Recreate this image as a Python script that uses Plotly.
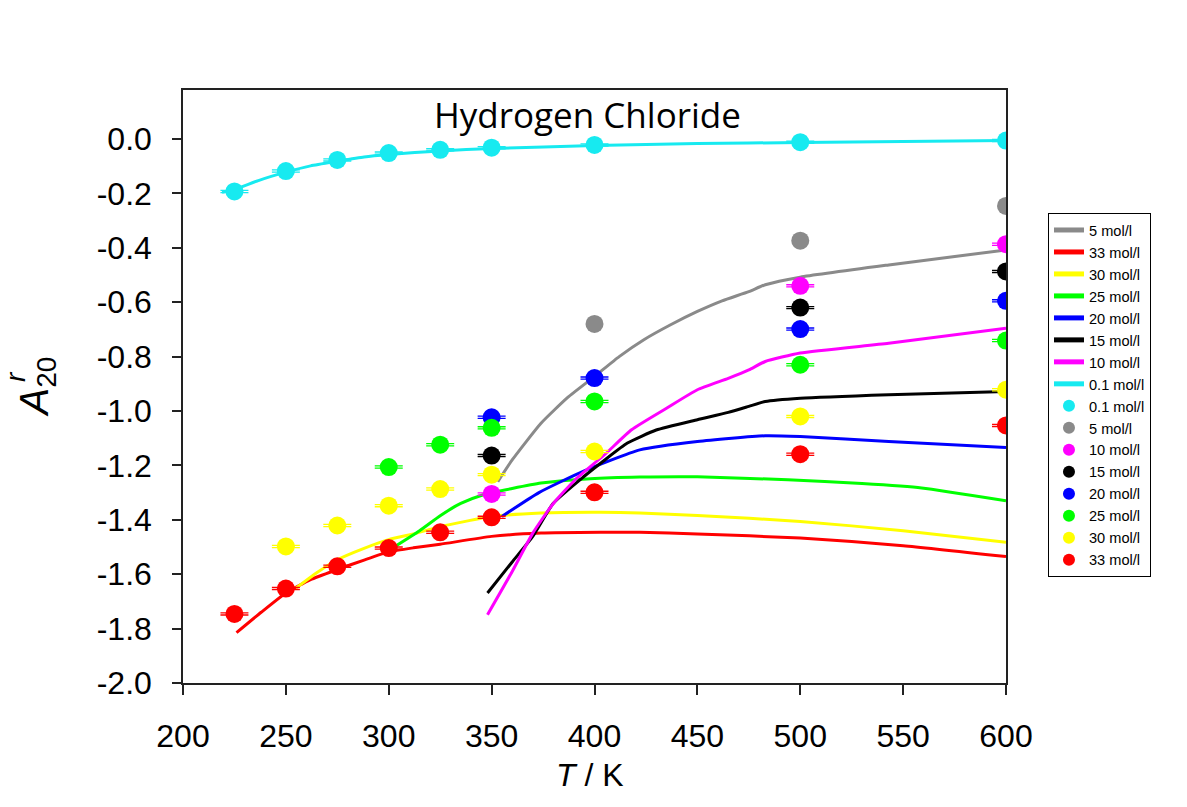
import plotly.graph_objects as go

# ---- measured points (T in K, A20r) ----
T_cyan = [225, 250, 275, 300, 325, 350, 400, 500, 600]
A_cyan = [-0.193, -0.118, -0.077, -0.052, -0.040, -0.032, -0.022, -0.012, -0.006]
T_gray = [400, 500, 600]
A_gray = [-0.680, -0.374, -0.246]
T_magenta = [350, 500, 600]
A_magenta = [-1.305, -0.540, -0.387]
T_black = [350, 500, 600]
A_black = [-1.164, -0.620, -0.487]
T_blue = [350, 400, 500, 600]
A_blue = [-1.023, -0.879, -0.699, -0.595]
T_green = [300, 325, 350, 400, 500, 600]
A_green = [-1.206, -1.124, -1.062, -0.965, -0.830, -0.741]
T_yellow = [250, 275, 300, 325, 350, 400, 500, 600]
A_yellow = [-1.498, -1.421, -1.348, -1.287, -1.234, -1.149, -1.020, -0.922]
T_red = [225, 250, 275, 300, 325, 350, 400, 500, 600]
A_red = [-1.746, -1.653, -1.571, -1.504, -1.446, -1.391, -1.299, -1.159, -1.053]

# ---- equation-of-state curves ----
L_T_gray = [353, 360, 374, 387, 400, 412, 424, 437, 450, 462, 475, 483, 500, 543, 600]
L_A_gray = [-1.26, -1.18, -1.045, -0.95, -0.873, -0.80, -0.738, -0.683, -0.634, -0.595,
            -0.561, -0.536, -0.508, -0.463, -0.408]
L_T_red = [226, 238, 250, 262, 275, 288, 300, 312, 325, 350, 374, 403, 422, 450, 500, 550, 600]
L_A_red = [-1.815, -1.74, -1.669, -1.62, -1.583, -1.548, -1.518, -1.503, -1.49, -1.461,
           -1.449, -1.446, -1.446, -1.452, -1.467, -1.495, -1.535]
L_T_yellow = [255, 265, 275, 288, 300, 312, 325, 350, 374, 403, 422, 450, 500, 550, 600]
L_A_yellow = [-1.651, -1.595, -1.547, -1.505, -1.473, -1.452, -1.425, -1.388, -1.375,
              -1.372, -1.375, -1.384, -1.406, -1.44, -1.483]
L_T_green = [303, 315, 325, 335, 346, 360, 374, 398, 422, 450, 494, 530, 559, 600]
L_A_green = [-1.498, -1.44, -1.385, -1.34, -1.308, -1.285, -1.265, -1.249, -1.243,
             -1.242, -1.253, -1.267, -1.283, -1.330]
L_T_blue = [355, 373, 395, 422, 450, 483, 500, 543, 600]
L_A_blue = [-1.388, -1.30, -1.22, -1.143, -1.112, -1.091, -1.094, -1.112, -1.134]
L_T_black = [348, 360, 370, 380, 395, 405, 416, 430, 450, 465, 475, 483, 500, 543, 600]
L_A_black = [-1.669, -1.555, -1.461, -1.339, -1.24, -1.18, -1.118, -1.07, -1.032, -1.005,
             -0.983, -0.965, -0.953, -0.94, -0.928]
L_T_magenta = [348, 360, 370, 380, 391, 405, 418, 435, 450, 465, 475, 483, 500, 543, 600]
L_A_magenta = [-1.749, -1.59, -1.449, -1.34, -1.25, -1.16, -1.069, -0.99, -0.922, -0.88,
               -0.849, -0.818, -0.787, -0.751, -0.696]
L_T_cyan = [219, 225, 237, 250, 262, 275, 288, 300, 325, 350, 400, 450, 500, 550, 600]
L_A_cyan = [-0.196, -0.186, -0.152, -0.122, -0.099, -0.082, -0.066, -0.057, -0.044,
            -0.035, -0.024, -0.017, -0.013, -0.009, -0.006]

y_tickvals = [0.0, -0.2, -0.4, -0.6, -0.8, -1.0, -1.2, -1.4, -1.6, -1.8, -2.0]
y_ticktext = ["0.0", "-0.2", "-0.4", "-0.6", "-0.8", "-1.0", "-1.2", "-1.4", "-1.6", "-1.8", "-2.0"]
x_tickvals = [200, 250, 300, 350, 400, 450, 500, 550, 600]

COL = {
    "gray": "#8a8a8a", "red": "#ff0000", "yellow": "#ffff00", "green": "#00ff00",
    "blue": "#0000ff", "black": "#000000", "magenta": "#ff00ff", "cyan": "#17eaf0",
}

fig = go.Figure()

curves = [
    ("5 mol/l", L_T_gray, L_A_gray, "gray"),
    ("33 mol/l", L_T_red, L_A_red, "red"),
    ("30 mol/l", L_T_yellow, L_A_yellow, "yellow"),
    ("25 mol/l", L_T_green, L_A_green, "green"),
    ("20 mol/l", L_T_blue, L_A_blue, "blue"),
    ("15 mol/l", L_T_black, L_A_black, "black"),
    ("10 mol/l", L_T_magenta, L_A_magenta, "magenta"),
    ("0.1 mol/l", L_T_cyan, L_A_cyan, "cyan"),
]
for name, tx, ay, c in curves:
    fig.add_trace(go.Scatter(
        x=tx, y=ay, mode="lines", name=name,
        line=dict(color=COL[c], width=3, shape="spline", smoothing=0.5),
    ))

points = [
    ("0.1 mol/l", T_cyan, A_cyan, "cyan", True),
    ("5 mol/l", T_gray, A_gray, "gray", False),
    ("10 mol/l", T_magenta, A_magenta, "magenta", True),
    ("15 mol/l", T_black, A_black, "black", True),
    ("20 mol/l", T_blue, A_blue, "blue", True),
    ("25 mol/l", T_green, A_green, "green", True),
    ("30 mol/l", T_yellow, A_yellow, "yellow", True),
    ("33 mol/l", T_red, A_red, "red", True),
]
for name, tx, ay, c, err in points:
    fig.add_trace(go.Scatter(
        x=tx, y=ay, mode="markers", name=name,
        marker=dict(color=COL[c], size=18, line=dict(width=0)),
        error_y=dict(type="constant", value=0.004, width=14, thickness=1.3,
                     color=COL[c], visible=err),
    ))

font_axis = "Liberation Sans, Arial, sans-serif"

fig.update_layout(
    width=1187, height=807,
    margin=dict(l=183, r=181, t=90, b=124),
    paper_bgcolor="white", plot_bgcolor="white",
    showlegend=True,
    legend=dict(
        x=1.051, y=0.7926, xanchor="left", yanchor="top",
        bordercolor="black", borderwidth=1, bgcolor="white",
        font=dict(family=font_axis, size=14.6, color="black"),
        itemsizing="constant", tracegroupgap=0,
    ),
    xaxis=dict(
        range=[200, 600], tickvals=x_tickvals, ticks="outside", ticklen=10,
        tickwidth=1.5, tickcolor="#222", showline=True, linecolor="#222", linewidth=1.5,
        mirror=True, showgrid=False, zeroline=False,
        tickfont=dict(family=font_axis, size=32, color="black"),
        ticklabelstandoff=14,
    ),
    yaxis=dict(
        range=[-2.0, 0.18], tickvals=y_tickvals, ticktext=y_ticktext, ticks="outside",
        ticklen=9, tickwidth=1.5, tickcolor="#222", showline=True, linecolor="#222",
        linewidth=1.5, mirror=True, showgrid=False, zeroline=False,
        tickfont=dict(family=font_axis, size=32, color="black"),
        ticklabelstandoff=14,
    ),
    annotations=[
        dict(text="Hydrogen Chloride", x=0.4915, y=0.9595, xref="paper", yref="paper",
             showarrow=False, xanchor="center", yanchor="middle",
             font=dict(family="Open Sans", size=35, color="black")),
        dict(text="<i>T</i> / K", x=0.4945, y=-0.155, xref="paper", yref="paper",
             showarrow=False, xanchor="center", yanchor="middle",
             font=dict(family=font_axis, size=32, color="black")),
        dict(text="<i>A</i><sub>20</sub>", x=-0.1786, y=0.50, xref="paper", yref="paper",
             showarrow=False, xanchor="center", yanchor="middle", textangle=-90,
             font=dict(family=font_axis, size=40, color="black")),
        dict(text="<i>r</i>", x=-0.204, y=0.516, xref="paper", yref="paper",
             showarrow=False, xanchor="center", yanchor="middle", textangle=-90,
             font=dict(family=font_axis, size=28, color="black")),
    ],
)

fig.write_html("out.html")
